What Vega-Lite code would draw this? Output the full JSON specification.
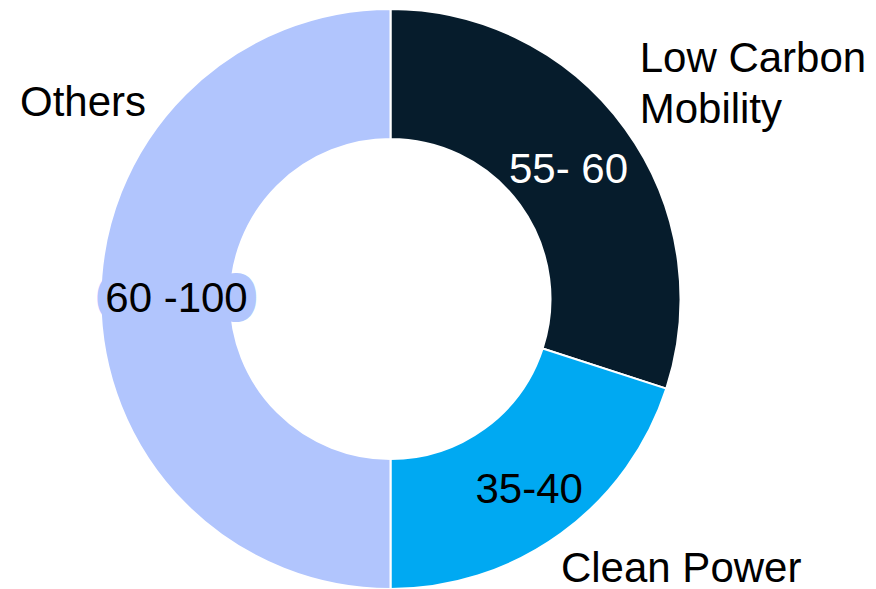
{
  "$schema": "https://vega.github.io/schema/vega-lite/v6.json",
  "autosize": "none",
  "width": 781,
  "height": 598,
  "padding": {"left": 0, "top": 0, "right": 95, "bottom": 0},
  "background": "white",
  "config": {"view": {"stroke": null}, "text": {"font": "Liberation Sans", "fontSize": 42}},
  "data": {
    "values": [
      {"idx": 1, "category": "Low Carbon Mobility", "name": "Low Carbon\nMobility", "value": 30, "range": "55- 60"},
      {"idx": 2, "category": "Clean Power", "name": "Clean Power", "value": 20, "range": "35-40"},
      {"idx": 3, "category": "Others", "name": "Others", "value": 50, "range": "60 -100"}
    ]
  },
  "encoding": {
    "theta": {"field": "value", "type": "quantitative", "stack": true},
    "order": {"field": "idx", "type": "quantitative"}
  },
  "layer": [
    {
      "mark": {"type": "arc", "innerRadius": 160, "outerRadius": 290, "stroke": "white", "strokeWidth": 2},
      "encoding": {
        "color": {
          "field": "category",
          "type": "nominal",
          "scale": {"domain": ["Low Carbon Mobility", "Clean Power", "Others"], "range": ["#061c2c", "#00a9f2", "#b1c5fd"]},
          "legend": null
        }
      }
    },
    {
      "mark": {"type": "text", "radius": 220, "align": "center", "baseline": "middle", "fill": "white"},
      "encoding": {
        "detail": {"field": "category"},
        "text": {"condition": {"test": "datum.idx === 1", "field": "range"}, "value": ""}
      }
    },
    {
      "mark": {"type": "text", "radius": 236, "align": "center", "baseline": "middle", "fill": "black"},
      "encoding": {
        "detail": {"field": "category"},
        "text": {"condition": {"test": "datum.idx === 2", "field": "range"}, "value": ""}
      }
    },
    {
      "mark": {"type": "text", "radius": 214, "align": "center", "baseline": "middle", "fill": "#b1c5fd", "stroke": "#b1c5fd", "strokeWidth": 20, "strokeJoin": "miter"},
      "encoding": {
        "detail": {"field": "category"},
        "text": {"condition": {"test": "datum.idx === 3", "field": "range"}, "value": ""}
      }
    },
    {
      "mark": {"type": "text", "radius": 214, "align": "center", "baseline": "middle", "fill": "black"},
      "encoding": {
        "detail": {"field": "category"},
        "text": {"condition": {"test": "datum.idx === 3", "field": "range"}, "value": ""}
      }
    },
    {
      "mark": {"type": "text", "radius": 308, "align": "left", "baseline": "alphabetic", "dy": -46, "lineHeight": 51, "lineBreak": "\n", "fill": "black"},
      "encoding": {
        "detail": {"field": "category"},
        "text": {"condition": {"test": "datum.idx === 1", "field": "name"}, "value": ""}
      }
    },
    {
      "mark": {"type": "text", "radius": 290, "align": "left", "baseline": "alphabetic", "dy": 48, "fill": "black"},
      "encoding": {
        "detail": {"field": "category"},
        "text": {"condition": {"test": "datum.idx === 2", "field": "name"}, "value": ""}
      }
    },
    {
      "mark": {"type": "text", "radius": 370.5, "align": "left", "baseline": "alphabetic", "dy": -183, "fill": "black"},
      "encoding": {
        "detail": {"field": "category"},
        "text": {"condition": {"test": "datum.idx === 3", "field": "name"}, "value": ""}
      }
    }
  ]
}
